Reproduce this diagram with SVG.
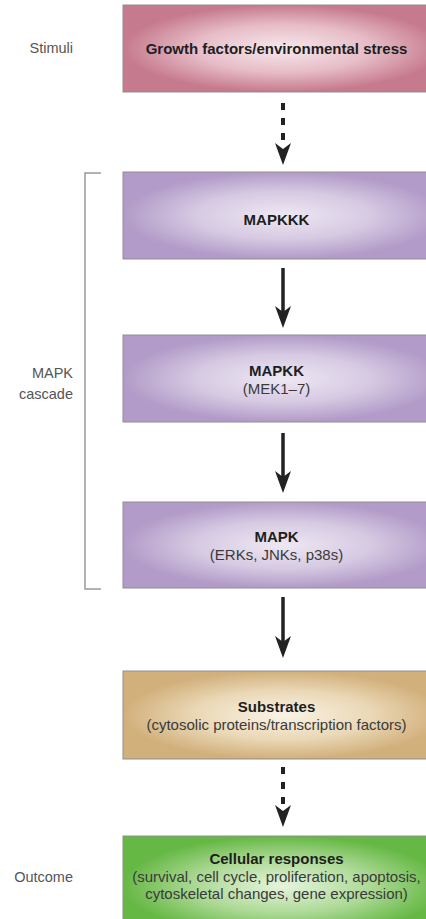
<svg xmlns="http://www.w3.org/2000/svg" width="426" height="919" viewBox="0 0 426 919">
<defs>
<radialGradient id="gPink" cx="0.5" cy="0.5" r="0.5">
<stop offset="0" stop-color="#f7e9ec"/>
<stop offset="0.55" stop-color="#e6bcc7"/>
<stop offset="1" stop-color="#c67a8d"/>
</radialGradient>
<radialGradient id="gPurple" cx="0.5" cy="0.5" r="0.5">
<stop offset="0" stop-color="#eee8f3"/>
<stop offset="0.55" stop-color="#d6c9e2"/>
<stop offset="1" stop-color="#b29bc8"/>
</radialGradient>
<radialGradient id="gTan" cx="0.5" cy="0.5" r="0.5">
<stop offset="0" stop-color="#faf3e6"/>
<stop offset="0.55" stop-color="#ead8b6"/>
<stop offset="1" stop-color="#d2b07c"/>
</radialGradient>
<radialGradient id="gGreen" cx="0.5" cy="0.5" r="0.5">
<stop offset="0" stop-color="#e6f4dd"/>
<stop offset="0.55" stop-color="#acd995"/>
<stop offset="1" stop-color="#66b845"/>
</radialGradient>
<path id="head" d="M-8,-22 L0,-16 L8,-22 L0,0 Z" fill="#222"/>
</defs>
<style>
.box{stroke:#8f8f8f;stroke-width:1}
.t{font-family:"Liberation Sans",Arial,sans-serif;text-anchor:middle}
.b{font-weight:bold;font-size:15px;fill:#1e1e1e}
.s{font-size:15px;fill:#3a3a3a}
.lab{font-family:"Liberation Sans",Arial,sans-serif;font-size:14.5px;fill:#555;text-anchor:end}
.shaft{stroke:#222;stroke-width:3.5;fill:none}
.dash{stroke:#222;stroke-width:4;fill:none;stroke-dasharray:7 8}
.br{stroke:#9a9a9a;stroke-width:1.5;fill:none}
</style>

<g id="labels">
<text class="lab" x="73" y="53">Stimuli</text>
<text class="lab" x="73" y="378">MAPK</text>
<text class="lab" x="73" y="399">cascade</text>
<text class="lab" x="73" y="882">Outcome</text>
</g>

<g id="bracket">
<path class="br" d="M101,173 H85 V589 H101"/>
</g>

<g id="stimuli">
<rect class="box" x="123" y="5" width="320" height="87" fill="url(#gPink)"/>
<text class="t b" x="276.5" y="54">Growth factors/environmental stress</text>
</g>

<g id="mapkkk">
<rect class="box" x="123" y="172" width="320" height="87" fill="url(#gPurple)"/>
<text class="t b" x="276.5" y="225">MAPKKK</text>
</g>

<g id="mapkk">
<rect class="box" x="123" y="335" width="320" height="87" fill="url(#gPurple)"/>
<text class="t b" x="276.5" y="376">MAPKK</text>
<text class="t s" x="276.5" y="394">(MEK1–7)</text>
</g>

<g id="mapk">
<rect class="box" x="123" y="502" width="320" height="86" fill="url(#gPurple)"/>
<text class="t b" x="276.5" y="542">MAPK</text>
<text class="t s" x="276.5" y="560">(ERKs, JNKs, p38s)</text>
</g>

<g id="substrates">
<rect class="box" x="123" y="671" width="320" height="88" fill="url(#gTan)"/>
<text class="t b" x="276.5" y="712">Substrates</text>
<text class="t s" x="276.5" y="730">(cytosolic proteins/transcription factors)</text>
</g>

<g id="responses">
<rect class="box" x="123" y="836" width="320" height="100" fill="url(#gGreen)"/>
<text class="t b" x="276.5" y="864">Cellular responses</text>
<text class="t s" x="276.5" y="882">(survival, cell cycle, proliferation, apoptosis,</text>
<text class="t s" x="276.5" y="899">cytoskeletal changes, gene expression)</text>
</g>

<g id="connectors">
<path class="dash" d="M283,103 V145"/>
<use href="#head" x="283" y="165"/>
<path class="shaft" d="M283,268 V314"/>
<use href="#head" x="283" y="328"/>
<path class="shaft" d="M283,433 V479"/>
<use href="#head" x="283" y="493"/>
<path class="shaft" d="M283,597 V644"/>
<use href="#head" x="283" y="658"/>
<path class="dash" d="M283,767 V807"/>
<use href="#head" x="283" y="827"/>
</g>
</svg>
